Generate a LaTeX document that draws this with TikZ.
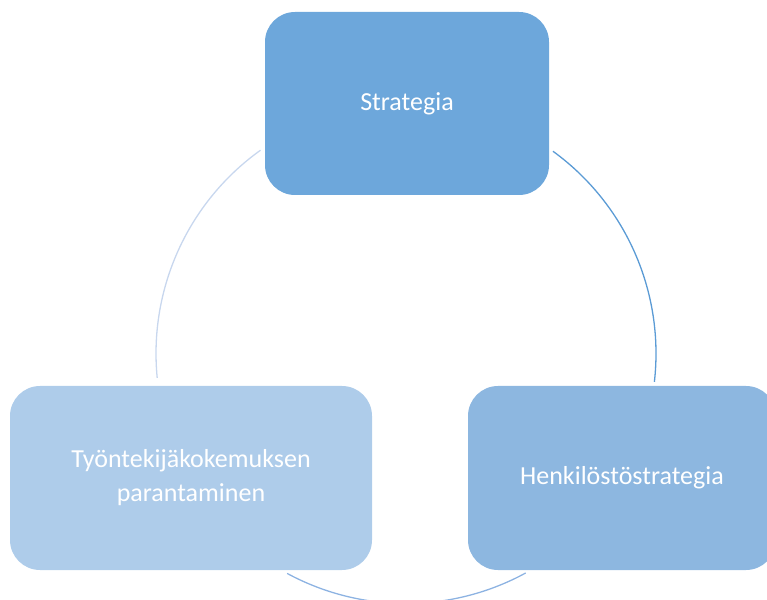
\documentclass[tikz,border=0pt]{standalone}
\usepackage{fontspec}
\setmainfont{Carlito}
\usetikzlibrary{arrows.meta,positioning,calc}
\definecolor{topblue}{HTML}{6DA7DB}
\definecolor{leftblue}{HTML}{AECCEA}
\definecolor{rightblue}{HTML}{8DB7E0}
\definecolor{arcleft}{HTML}{C8D7EE}
\definecolor{arcright}{HTML}{5B9BD5}
\definecolor{arcbottom}{HTML}{8DB3E2}

\begin{document}
\begin{tikzpicture}[x=1pt,y=1pt,
  box/.style={rounded corners=30pt,text=white,align=center,inner sep=0pt,
    font=\fontsize{26}{34}\selectfont,minimum height=184pt},
  ring/.style={line width=1.3pt}]
\clip (0,0) rectangle (767,599);
\useasboundingbox (0,0) rectangle (767,599);
\coordinate (c) at (406,245.5);
\node[box,fill=topblue,minimum width=284pt,minimum height=183pt] (strat) at (407,495.5) {Strategia};
\node[box,fill=leftblue,minimum width=362pt] (kok) at (191,121) {Työntekijäkokemuksen\\parantaminen};
\node[box,fill=rightblue,minimum width=308pt] (hs) at (622,121) {Henkilöstöstrategia};
\draw[ring,arcright] ($(c)+(54:250)$) arc[start angle=54,end angle=-6.5,radius=250];
\draw[ring,arcbottom] ($(c)+(298.6:250)$) arc[start angle=298.6,end angle=241.6,radius=250];
\draw[ring,arcleft] ($(c)+(185.6:250)$) arc[start angle=185.6,end angle=125.6,radius=250];
\end{tikzpicture}
\end{document}
